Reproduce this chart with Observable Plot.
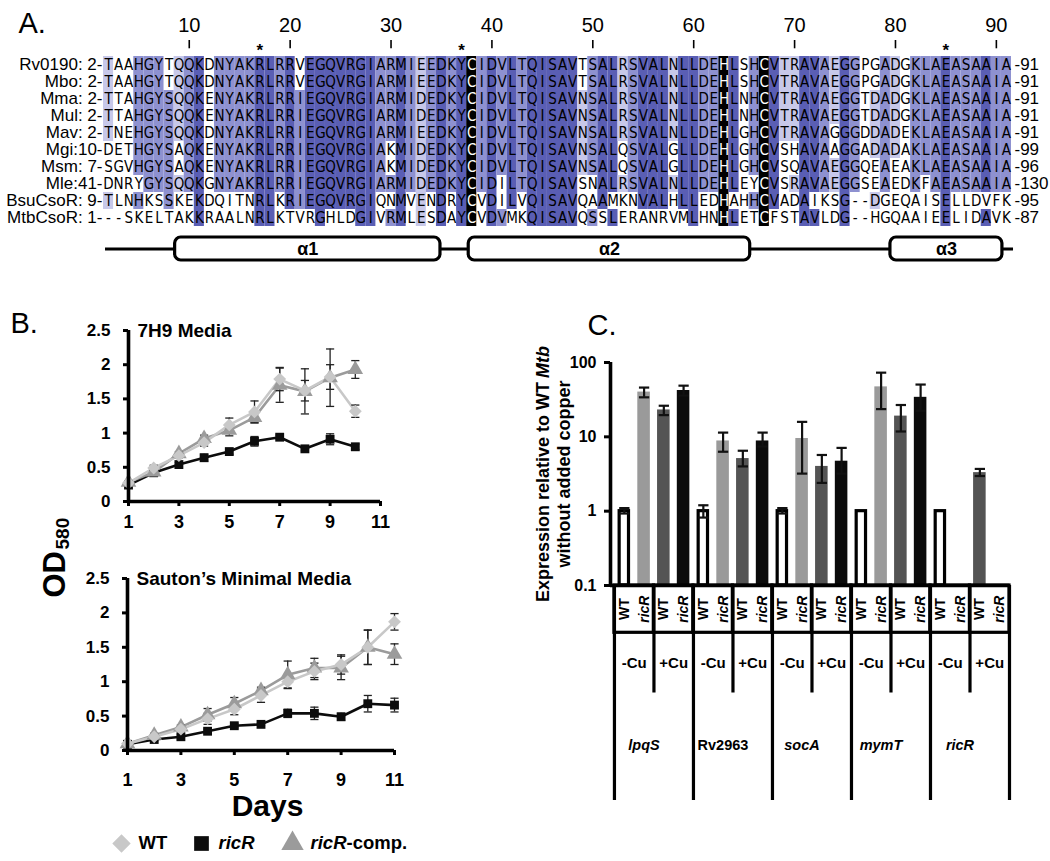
<!DOCTYPE html>
<html><head><meta charset="utf-8">
<script src="https://cdn.jsdelivr.net/npm/d3@7"></script>
<script src="https://cdn.jsdelivr.net/npm/@observablehq/plot@0.6"></script>
<style>
body{margin:0;background:#fff;}
#wrap{position:relative;width:1050px;height:861px;overflow:hidden;background:#fff;}
#wrap svg{position:absolute;left:0;top:0;}
</style></head><body><div id="wrap"></div>
<script>
// ---------------- Panel A data ----------------
const seqNames = ["Rv0190:","Mbo:","Mma:","Mul:","Mav:","Mgi:","Msm:","Mle:","BsuCsoR:","MtbCsoR:"];
const seqStarts = ["2-","2-","2-","2-","2-","10-","7-","41-","9-","1-"];
const seqEnds = ["-91","-91","-91","-91","-91","-99","-96","-130","-95","-87"];
const sequences = [
  "TAAHGYTQQKDNYAKRLRRVEGQVRGIARMIEEDKYCIDVLTQISAVTSALRSVALNLLDEHLSHCVTRAVAEGGPGADGKLAEASAAIA",
  "TAAHGYTQQKDNYAKRLRRVEGQVRGIARMIEEDKYCIDVLTQISAVTSALRSVALNLLDEHLSHCVTRAVAEGGPGADGKLAEASAAIA",
  "TTAHGYSQQKENYAKRLRRIEGQVRGIARMIDEDKYCIDVLTQISAVNSALRSVALNLLDEHLNHCVTRAVAEGGTDADGKLAEASAAIA",
  "TTAHGYSQQKENYAKRLRRIEGQVRGIARMIDEDKYCIDVLTQISAVNSALRSVALNLLDEHLNHCVTRAVAEGGTDADGKLAEASAAIA",
  "TNEHGYSQQKDNYAKRLRRIEGQVRGIARMIEEDKYCIDVLTQISAVNSALRSVALNLLDEHLGHCVTRAVAGGGDDADEKLAEASAAIA",
  "DETHGYSAQKENYAKRLRRIEGQVRGIAKMIDEDKYCIDVLTQISAVNSALQSVALGLLDEHLGHCVSHAVAAGGADADAKLAEASAAIA",
  "SGVHGYSAQKENYAKRLRRIEGQVRGIAKMIDEDKYCIDVLTQISAVNSALQSVALGLLDEHLGHCVSQAVAEGGQEAEAKLAEASAAIA",
  "DNRYGYSQQKGNYAKRLRRIEGQVRGIARMIDEDKYCIDILTQISAVSNALRSVALNLLDEHLEYCVSRAVAEGGSEAEDKFAEASAAIA",
  "TLNHKSSKEKDQITNRLKRIEGQVRGIQNMVENDRYCVDILVQISAVQAAMKNVALHLLEDHAHHCVADAIKSG--DGEQAISELLDVFK",
  "--SKELTAKKRAALNRLKTVRGHLDGIVRMLESDAYCVDVMKQISAVQSSLERANRVMLHNHLETCFSTAVLDG--HGQAAIEELIDAVK"
];
const tickResidues = [10,20,30,40,50,60,70,80,90];
const starColumns = [16,36,84];
const blackColumns = [37,62,66];
const helixLabels = ["α1","α2","α3"];
const helixStarts = [7.6,36.7,78.5];
const helixEnds = [33.9,64.6,89.6];
const helixLine = [0.7,90.7];

// ---------------- Panel B data ----------------
const days7H9 = [1,2,3,4,5,6,7,8,9,10];
const wt7H9 = [0.27,0.49,0.67,0.86,1.12,1.31,1.79,1.62,1.82,1.32];
const wt7H9Err = [0.02,0.04,0.03,0.05,0.10,0.16,0.17,0.15,0.18,0.09];
const ricR7H9 = [0.24,0.42,0.54,0.64,0.73,0.88,0.94,0.77,0.91,0.80];
const ricR7H9Err = [0.02,0.03,0.03,0.05,0.04,0.07,0.03,0.03,0.08,0.04];
const comp7H9 = [0.28,0.43,0.70,0.92,1.04,1.23,1.70,1.61,1.81,1.93];
const comp7H9Err = [0.02,0.04,0.03,0.05,0.08,0.08,0.25,0.33,0.42,0.13];

const daysSauton = [1,2,3,4,5,6,7,8,9,10,11];
const wtSauton = [0.10,0.20,0.31,0.46,0.60,0.80,1.00,1.15,1.25,1.50,1.87];
const wtSautonErr = [0.02,0.03,0.03,0.08,0.08,0.10,0.09,0.12,0.14,0.25,0.12];
const ricRSauton = [0.09,0.16,0.20,0.28,0.36,0.38,0.54,0.54,0.49,0.68,0.66];
const ricRSautonErr = [0.02,0.02,0.03,0.03,0.03,0.02,0.06,0.09,0.05,0.12,0.10];
const compSauton = [0.10,0.22,0.34,0.52,0.68,0.87,1.10,1.20,1.20,1.50,1.40];
const compSautonErr = [0.02,0.03,0.03,0.09,0.09,0.05,0.20,0.14,0.17,0.25,0.15];

const yTicksB = [0,0.5,1,1.5,2,2.5];
const xTicksB = [1,3,5,7,9,11];

// ---------------- Panel C data ----------------
const genes = ["lpqS","Rv2963","socA","mymT","ricR"];
const geneItalic = [true,false,true,true,true];
const strains = ["WT","ricR","WT","ricR"];
const copper = ["-Cu","+Cu"];
const wtMinusCu = [1.0,1.0,1.0,1.0,1.0];
const wtMinusCuLo = [0.93,0.82,0.93,null,null];
const wtMinusCuHi = [1.10,1.20,1.10,null,null];
const ricRMinusCu = [40,8.8,9.5,47,null];
const ricRMinusCuLo = [34,6.3,3.2,23.6,null];
const ricRMinusCuHi = [46,11.4,15.9,73,null];
const wtPlusCu = [23,5.1,4.0,19,3.3];
const wtPlusCuLo = [19.6,4.0,2.4,11.8,2.97];
const wtPlusCuHi = [26.2,6.5,5.7,26.8,3.7];
const ricRPlusCu = [42,8.8,4.7,34,null];
const ricRPlusCuLo = [35.8,7.4,3.2,22.4,null];
const ricRPlusCuHi = [48.8,11.4,7.1,50.5,null];
const yTicksC = [0.1,1,10,100];

// ---------------- helpers ----------------
const W = 1050, H = 861;
const SANS = "'Liberation Sans', Arial, Helvetica, sans-serif";
const NARROW = "'Liberation Sans Narrow', 'Arial Narrow', 'DejaVu Sans Condensed', 'Liberation Sans', sans-serif";
const baseStyle = {background: "transparent", overflow: "visible", fontFamily: SANS};
const cap = {draw(ctx, size) { const w = Math.sqrt(size); ctx.moveTo(-w / 2, 0); ctx.lineTo(w / 2, 0); }};
const wrap = document.getElementById("wrap");
const M = {lineAnchor: "middle"};

// ---------------- Panel A: alignment ----------------
const levelColors = ["#ffffff", "#c7c8e9", "#8e91d0", "#5a5eb4", "#000000"];
const nSeq = sequences.length;
const cells = [];
for (let c = 0; c < sequences[0].length; c++) {
  const column = sequences.map(s => s[c]);
  const counts = d3.rollup(column.filter(a => a !== "-"), v => v.length, a => a);
  const max = d3.max(counts.values());
  const consensus = [...counts].filter(([, v]) => v === max).map(([k]) => k);
  const pct = 100 * max / nSeq;
  column.forEach((aa, r) => {
    let level = 0;
    if (aa !== "-" && consensus.includes(aa)) level = pct > 80 ? 3 : pct > 60 ? 2 : pct > 40 ? 1 : 0;
    if (blackColumns.includes(c + 1)) level = 4;
    cells.push({row: r, col: c + 1, aa, level});
  });
}
const rowIdx = d3.range(nSeq);

wrap.append(Plot.plot({
  width: W, height: H,
  marginLeft: 103, marginRight: 39, marginTop: 51.6, marginBottom: 631.4,
  x: {type: "linear", domain: [0.5, 90.5], axis: null},
  y: {type: "band", domain: rowIdx, padding: 0, axis: null},
  style: baseStyle,
  marks: [
    Plot.barX(cells.filter(d => d.level > 0), {x1: d => d.col - 0.5, x2: d => d.col + 0.5, y: "row", fill: d => levelColors[d.level]}),
    Plot.text(cells, {x: "col", y: "row", text: "aa", fill: d => d.level === 4 ? "white" : "black", fontFamily: NARROW, fontSize: 15}),
    Plot.text(rowIdx, {y: d => d, frameAnchor: "left", textAnchor: "end", dx: -1, fontSize: 17, ...M,
      text: i => seqNames[i] + (seqStarts[i].length < 3 ? " " : "") + seqStarts[i]}),
    Plot.text(rowIdx, {y: d => d, frameAnchor: "right", textAnchor: "start", dx: 3, fontSize: 17, ...M, text: i => seqEnds[i]}),
    Plot.text(tickResidues, {x: d => d - 1, frameAnchor: "top", dy: -27, text: d => String(d), fontSize: 20, ...M}),
    Plot.ruleX(tickResidues, {x: d => d - 1, insetTop: -11.6, insetBottom: 181.3, strokeWidth: 1.6}),
    Plot.text(starColumns, {x: d => d, frameAnchor: "top", dy: -1.4, text: () => "*", fontSize: 17, fontWeight: "bold", ...M}),
    Plot.text(["A."], {frameAnchor: "top-left", dx: -85, dy: -28.6, textAnchor: "start", fontSize: 29, ...M, text: d => d})
  ]
}));

// helix diagram
const helices = helixLabels.map((label, i) => ({label, start: helixStarts[i], end: helixEnds[i]}));
wrap.append(Plot.plot({
  width: W, height: H,
  marginLeft: 103, marginRight: 39, marginTop: 237, marginBottom: 601,
  x: {type: "linear", domain: [0.5, 90.5], axis: null},
  y: {type: "linear", domain: [0, 1], axis: null},
  style: baseStyle,
  marks: [
    Plot.ruleY([0.5], {x1: helixLine[0], x2: helixLine[1], strokeWidth: 3.2}),
    Plot.rect(helices, {x1: "start", x2: "end", y1: 0, y2: 1, rx: 6, fill: "white", stroke: "black", strokeWidth: 3.2}),
    Plot.text(helices, {x: d => (d.start + d.end) / 2, y: 0.5, text: "label", fontSize: 18, fontWeight: "bold"})
  ]
}));

// ---------------- Panel B: growth curves ----------------
const seriesStyle = {
  WT: {color: "#c8c8c8", symbol: "diamond2", r: 5.8},
  ricR: {color: "#0c0c0c", symbol: "square", r: 5},
  comp: {color: "#9b9b9b", symbol: "triangle", r: 5.8}
};
function tidy(days, triples) {
  const out = [];
  for (const [key, vals, errs] of triples)
    days.forEach((d, i) => out.push({day: d, value: vals[i], lo: vals[i] - errs[i], hi: vals[i] + errs[i], series: key}));
  return out;
}
function growthMarks(data, xtickPad) {
  const order = ["ricR", "comp", "WT"];
  const marks = [];
  for (const k of order) marks.push(Plot.line(data.filter(d => d.series === k), {x: "day", y: "value", stroke: seriesStyle[k].color, strokeWidth: 2.6}));
  marks.push(Plot.ruleX(data, {x: "day", y1: "lo", y2: "hi", stroke: "#222", strokeWidth: 1.3}));
  marks.push(Plot.dot(data, {x: "day", y: "lo", symbol: cap, r: 4.6, stroke: "#222", strokeWidth: 1.3, fill: "none"}));
  marks.push(Plot.dot(data, {x: "day", y: "hi", symbol: cap, r: 4.6, stroke: "#222", strokeWidth: 1.3, fill: "none"}));
  for (const k of order) marks.push(Plot.dot(data.filter(d => d.series === k), {x: "day", y: "value", symbol: seriesStyle[k].symbol, r: seriesStyle[k].r, fill: seriesStyle[k].color, stroke: "none"}));
  marks.push(Plot.axisY({ticks: yTicksB, tickFormat: d => String(d), tickSize: 5, tickPadding: 13, strokeWidth: 3, label: null, fontSize: 17, fontWeight: "bold"}));
  marks.push(Plot.axisX({ticks: xTicksB, tickFormat: d => String(d), tickSize: 5, tickPadding: xtickPad, strokeWidth: 3, label: null, fontSize: 18, fontWeight: "bold"}));
  marks.push(Plot.ruleX([1], {strokeWidth: 3.6}));
  marks.push(Plot.ruleY([0], {strokeWidth: 3.6}));
  return marks;
}
const data7H9 = tidy(days7H9, [["comp", comp7H9, comp7H9Err], ["WT", wt7H9, wt7H9Err], ["ricR", ricR7H9, ricR7H9Err]]);
const dataSauton = tidy(daysSauton, [["comp", compSauton, compSautonErr], ["WT", wtSauton, wtSautonErr], ["ricR", ricRSauton, ricRSautonErr]]);

wrap.append(Plot.plot({
  width: W, height: H,
  marginLeft: 128, marginRight: 670, marginTop: 330, marginBottom: 360,
  x: {type: "linear", domain: [1, 11]},
  y: {type: "linear", domain: [0, 2.5]},
  style: baseStyle,
  marks: [
    ...growthMarks(data7H9, 9),
    Plot.text(["7H9 Media"], {frameAnchor: "top-left", dx: 9, dy: 0, textAnchor: "start", fontSize: 19, fontWeight: "bold", ...M, text: d => d}),
    Plot.text(["B."], {frameAnchor: "top-left", dx: -118, dy: -7, textAnchor: "start", fontSize: 29, ...M, text: d => d}),
    Plot.text(["OD"], {frameAnchor: "bottom-left", dx: -73, dy: 96, rotate: -90, textAnchor: "start", fontSize: 31, fontWeight: "bold", ...M, text: d => d}),
    Plot.text(["580"], {frameAnchor: "bottom-left", dx: -66, dy: 48, rotate: -90, textAnchor: "start", fontSize: 19, fontWeight: "bold", ...M, text: d => d})
  ]
}));

wrap.append(Plot.plot({
  width: W, height: H,
  marginLeft: 127, marginRight: 656, marginTop: 578, marginBottom: 111,
  x: {type: "linear", domain: [1, 11]},
  y: {type: "linear", domain: [0, 2.5]},
  style: baseStyle,
  marks: [
    ...growthMarks(dataSauton, 18),
    Plot.text(["Sauton\u2019s Minimal Media"], {frameAnchor: "top-left", dx: 9, dy: 0, textAnchor: "start", fontSize: 19, fontWeight: "bold", ...M, text: d => d}),
    Plot.text(["Days"], {frameAnchor: "bottom-left", dx: 140, dy: 56, textAnchor: "middle", fontSize: 30, fontWeight: "bold", ...M, text: d => d})
  ]
}));

// legend
const legendItems = [
  {key: "WT", label: "WT", italic: false, dxSym: 0, dxText: 17},
  {key: "ricR", label: "ricR", italic: true, dxSym: -7, dxText: 10},
  {key: "comp", label: "ricR", italic: true, dxSym: -3, dxText: 15}
];
wrap.append(Plot.plot({
  width: W, height: H,
  marginLeft: 0, marginRight: 0, marginTop: 835, marginBottom: 10,
  x: {type: "point", domain: legendItems.map(d => d.key), range: [120, 295], padding: 0, axis: null},
  style: baseStyle,
  marks: [
    ...legendItems.map(it => Plot.dot([it], {x: "key", dx: it.dxSym, symbol: seriesStyle[it.key].symbol, r: 8.3, fill: seriesStyle[it.key].color})),
    ...legendItems.map(it => Plot.text([it], {x: "key", dx: it.dxText, text: "label", textAnchor: "start", fontSize: 18.5, fontWeight: "bold", fontStyle: it.italic ? "italic" : "normal"})),
    Plot.text(legendItems.filter(d => d.key === "comp"), {x: "key", dx: 51, text: () => "-comp.", textAnchor: "start", fontSize: 18.5, fontWeight: "bold"})
  ]
}));

// ---------------- Panel C: expression bars ----------------
const condSets = [
  {vals: wtMinusCu, lo: wtMinusCuLo, hi: wtMinusCuHi, fill: "white"},
  {vals: ricRMinusCu, lo: ricRMinusCuLo, hi: ricRMinusCuHi, fill: "#9a9a9a"},
  {vals: wtPlusCu, lo: wtPlusCuLo, hi: wtPlusCuHi, fill: "#545454"},
  {vals: ricRPlusCu, lo: ricRPlusCuLo, hi: ricRPlusCuHi, fill: "#0b0b0b"}
];
const bars = [];
genes.forEach((g, gi) => condSets.forEach((c, ci) => {
  bars.push({gene: g, slot: gi * 4 + ci, cond: ci, value: c.vals[gi], lo: c.lo[gi], hi: c.hi[gi], fill: c.fill});
}));
const present = bars.filter(d => d.value != null);
const withErr = bars.filter(d => d.lo != null);

wrap.append(Plot.plot({
  width: W, height: H,
  marginLeft: 610, marginRight: 41, marginTop: 362, marginBottom: 276,
  x: {type: "linear", domain: [-0.2, 20], axis: null},
  y: {type: "log", domain: [0.1, 100]},
  style: baseStyle,
  marks: [
    Plot.rect(present.filter(d => d.cond !== 0), {x1: "slot", x2: d => d.slot + 1, y1: 0.1, y2: "value", insetLeft: 3.6, insetRight: 3.6, fill: "fill"}),
    Plot.rect(present.filter(d => d.cond === 0), {x1: "slot", x2: d => d.slot + 1, y1: 0.1, y2: "value", insetLeft: 5.2, insetRight: 5.2, fill: "white", stroke: "black", strokeWidth: 3.2}),
    Plot.ruleX(withErr, {x: d => d.slot + 0.5, y1: "lo", y2: "hi", strokeWidth: 2.2, stroke: "#111"}),
    Plot.dot(withErr, {x: d => d.slot + 0.5, y: "lo", symbol: cap, r: 5.8, stroke: "#111", strokeWidth: 2.2, fill: "none"}),
    Plot.dot(withErr, {x: d => d.slot + 0.5, y: "hi", symbol: cap, r: 5.8, stroke: "#111", strokeWidth: 2.2, fill: "none"}),
    Plot.axisY({ticks: yTicksC, tickFormat: d => String(d), tickSize: 6, tickPadding: 8, strokeWidth: 3, label: null, fontSize: 16, fontWeight: "bold"}),
    Plot.ruleX([-0.2], {strokeWidth: 3.6}),
    Plot.ruleY([0.1], {strokeWidth: 3.6}),
    Plot.text(["C."], {frameAnchor: "top-left", dx: -23, dy: -37, textAnchor: "start", fontSize: 29, ...M, text: d => d}),
    Plot.text(["Expression relative to WT "], {frameAnchor: "left", dx: -67, dy: 128, rotate: -90, textAnchor: "start", fontSize: 18, fontWeight: "bold", ...M, text: d => d}),
    Plot.text(["Mtb"], {frameAnchor: "left", dx: -67, dy: -128, rotate: -90, textAnchor: "end", fontSize: 18, fontWeight: "bold", fontStyle: "italic", ...M, text: d => d}),
    Plot.text(["without added copper"], {frameAnchor: "left", dx: -46, dy: 0, rotate: -90, textAnchor: "middle", fontSize: 18, fontWeight: "bold", ...M, text: d => d})
  ]
}));

// category table below the bars
const pairs = d3.range(10).map(p => ({p, x1: p * 2, x2: p * 2 + 2, cu: copper[p % 2]}));
const slotLabels = d3.range(20).map(s => ({slot: s, label: strains[s % 4], italic: s % 2 === 1}));
const geneCells = genes.map((g, gi) => ({gene: g, gi, italic: geneItalic[gi]}));
const slotText = (rows, italic) => Plot.text(rows, {x: d => d.slot + 0.5, y: 0.89, text: "label", rotate: -90, fontSize: 14, fontWeight: "bold", fontStyle: italic ? "italic" : "normal"});
const geneText = (rows, italic) => Plot.text(rows, {x: d => d.gi * 4 + 2, dx: -10, y: 0.256, text: "gene", fontSize: 14.5, fontWeight: "bold", fontStyle: italic ? "italic" : "normal"});
wrap.append(Plot.plot({
  width: W, height: H,
  marginLeft: 610, marginRight: 41, marginTop: 585, marginBottom: 61,
  x: {type: "linear", domain: [-0.2, 20], axis: null},
  y: {type: "linear", domain: [0, 1], axis: null},
  style: baseStyle,
  marks: [
    Plot.rect(pairs, {x1: "x1", x2: "x2", y1: 0.78, y2: 1, fill: "none", stroke: "black", strokeWidth: 3.2}),
    Plot.ruleX(d3.range(0, 21, 4), {x: d => d, y1: 0, y2: 1, strokeWidth: 3.2}),
    Plot.ruleX(d3.range(2, 20, 4), {x: d => d, y1: 0.5, y2: 1, strokeWidth: 3.2}),
    slotText(slotLabels.filter(d => !d.italic), false),
    slotText(slotLabels.filter(d => d.italic), true),
    Plot.text(pairs, {x: d => d.x1 + 1, y: 0.64, text: "cu", fontSize: 15, fontWeight: "bold"}),
    geneText(geneCells.filter(d => !d.italic), false),
    geneText(geneCells.filter(d => d.italic), true)
  ]
}));
</script></body></html>
